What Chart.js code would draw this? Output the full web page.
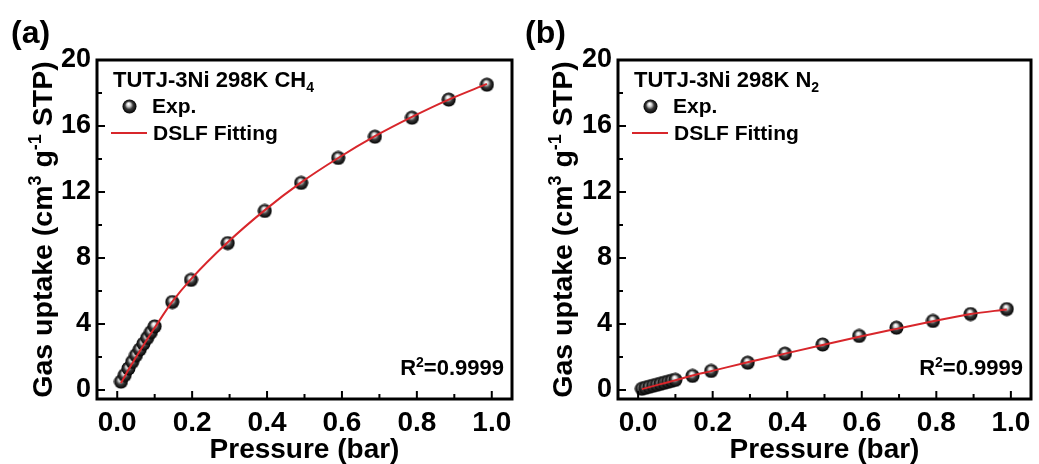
<!DOCTYPE html>
<html>
<head>
<meta charset="utf-8">
<script src="https://cdn.jsdelivr.net/npm/chart.js@4.4.1/dist/chart.umd.min.js"></script>
<style>
  body { margin: 0; background: #fff; }
  #wrap { position: relative; width: 1039px; height: 464px; }
  #chartA { position: absolute; left: 0; top: 0; }
  #chartB { position: absolute; left: 520px; top: 0; }
</style>
</head>
<body>
<div id="wrap">
  <canvas id="chartA" width="520" height="464"></canvas>
  <canvas id="chartB" width="519" height="464"></canvas>
</div>
<script>
// CH4 isotherm (panel a)
var pressureCH4 = [0.01, 0.02, 0.03, 0.04, 0.05, 0.06, 0.07, 0.08, 0.09, 0.10,
                   0.147, 0.197, 0.295, 0.394, 0.491, 0.590, 0.688, 0.787, 0.885, 0.987];
var uptakeCH4 = [0.50, 0.90, 1.30, 1.70, 2.10, 2.45, 2.80, 3.15, 3.50, 3.85,
                 5.33, 6.67, 8.90, 10.85, 12.55, 14.06, 15.35, 16.50, 17.60, 18.50];
var fitCH4 = [0.42, 0.82, 1.22, 1.60, 1.98, 2.35, 2.71, 3.07, 3.42, 3.77,
              5.35, 6.72, 8.95, 10.90, 12.58, 14.06, 15.38, 16.55, 17.60, 18.55];

// N2 isotherm (panel b)
var pressureN2 = [0.01, 0.02, 0.03, 0.04, 0.05, 0.06, 0.07, 0.08, 0.09, 0.10,
                  0.146, 0.196, 0.294, 0.394, 0.495, 0.593, 0.693, 0.791, 0.892, 0.989];
var uptakeN2 = [0.07, 0.13, 0.19, 0.25, 0.31, 0.37, 0.43, 0.49, 0.55, 0.61,
                0.85, 1.15, 1.65, 2.20, 2.75, 3.27, 3.77, 4.18, 4.60, 4.90];
var fitN2 = [0.05, 0.11, 0.17, 0.23, 0.29, 0.35, 0.41, 0.47, 0.53, 0.59,
             0.87, 1.14, 1.68, 2.20, 2.72, 3.22, 3.70, 4.16, 4.60, 4.88];

var xMajor = [0, 0.2, 0.4, 0.6, 0.8, 1.0];
var xMinor = [0.1, 0.3, 0.5, 0.7, 0.9];
var yMajor = [0, 4, 8, 12, 16, 20];
var yMinor = [2, 6, 10, 14, 18];

var FONT = "'Liberation Sans', Arial, sans-serif";
var RED = "#d8262b";

// sphere marker
var ball = document.createElement("canvas");
ball.width = 15; ball.height = 15;
(function () {
    var c = ball.getContext("2d");
    var g = c.createRadialGradient(6.5, 5, 0.5, 7.5, 7.5, 7);
    g.addColorStop(0, "#ffffff");
    g.addColorStop(0.25, "#c8c8c8");
    g.addColorStop(0.55, "#3a3a3a");
    g.addColorStop(1, "#000000");
    c.fillStyle = g;
    c.beginPath();
    c.arc(7.5, 7.5, 7, 0, Math.PI * 2);
    c.fill();
})();

function toPoints(xs, ys) {
    return xs.map(function (x, i) { return {x: x, y: ys[i]}; });
}

// text with a raised or lowered small part: parts = [[text, shift]]
function richText(ctx, parts, x, y, size, align) {
    var big = "bold " + size + "px " + FONT;
    var small = "bold " + Math.round(size * 0.62) + "px " + FONT;
    var w = 0;
    parts.forEach(function (p) {
        ctx.font = p[1] ? small : big;
        w += ctx.measureText(p[0]).width;
    });
    var cx = align === "right" ? x - w : (align === "center" ? x - w / 2 : x);
    ctx.textAlign = "left";
    parts.forEach(function (p) {
        ctx.font = p[1] ? small : big;
        ctx.fillText(p[0], cx, y + p[1] * size);
        cx += ctx.measureText(p[0]).width;
    });
}

function decorPlugin(opt) {
    return {
        id: "decor",
        afterDraw: function (chart) {
            var ctx = chart.ctx, a = chart.chartArea;
            var xs = chart.scales.x, ys = chart.scales.y;
            ctx.save();
            ctx.fillStyle = "#000";
            ctx.strokeStyle = "#000";

            // inward ticks
            ctx.lineWidth = 2;
            ctx.beginPath();
            xMajor.forEach(function (v) { var p = xs.getPixelForValue(v); ctx.moveTo(p, a.bottom); ctx.lineTo(p, a.bottom - 8); });
            xMinor.forEach(function (v) { var p = xs.getPixelForValue(v); ctx.moveTo(p, a.bottom); ctx.lineTo(p, a.bottom - 5); });
            yMajor.forEach(function (v) { var p = ys.getPixelForValue(v); ctx.moveTo(a.left, p); ctx.lineTo(a.left + 8, p); });
            yMinor.forEach(function (v) { var p = ys.getPixelForValue(v); ctx.moveTo(a.left, p); ctx.lineTo(a.left + 5, p); });
            ctx.stroke();

            // frame
            ctx.lineWidth = 3;
            ctx.strokeRect(a.left, a.top, a.right - a.left, a.bottom - a.top);

            ctx.textBaseline = "alphabetic";

            // panel label
            ctx.font = "bold 32px " + FONT;
            ctx.textAlign = "left";
            ctx.fillText(opt.panel, opt.panelX, 43);

            // y title
            ctx.save();
            ctx.translate(52, (a.top + a.bottom) / 2);
            ctx.rotate(-Math.PI / 2);
            richText(ctx, [["Gas uptake (cm", 0], ["3", -0.38], [" g", 0], ["-1", -0.38], [" STP)", 0]], 0, 0, 28.5, "center");
            ctx.restore();

            // legend
            richText(ctx, [[opt.gas, 0], [opt.sub, 0.22]], a.left + 16, 87, 22, "left");
            ctx.drawImage(ball, a.left + 25, 99);
            ctx.font = "bold 21px " + FONT;
            ctx.fillText("Exp.", a.left + 55, 113);
            ctx.strokeStyle = RED;
            ctx.lineWidth = 2;
            ctx.beginPath();
            ctx.moveTo(a.left + 14, 133);
            ctx.lineTo(a.left + 50, 133);
            ctx.stroke();
            ctx.fillText("DSLF Fitting", a.left + 56, 140);

            // R^2
            richText(ctx, [["R", 0], ["2", -0.38], ["=0.9999", 0]], a.right - 8, 375, 22, "right");
            ctx.restore();
        }
    };
}

function makeChart(id, xs, ys, fit, opt) {
    var ctx = document.getElementById(id).getContext("2d");
    return new Chart(ctx, {
        type: "scatter",
        data: {
            datasets: [{
                type: "line",
                label: "DSLF Fitting",
                data: toPoints(xs, fit),
                borderColor: RED,
                borderWidth: 2,
                pointRadius: 0,
                cubicInterpolationMode: "monotone",
                order: 0
            }, {
                label: "Exp.",
                data: toPoints(xs, ys),
                pointStyle: ball,
                pointRadius: 7,
                order: 1
            }]
        },
        options: {
            responsive: false,
            animation: false,
            devicePixelRatio: 1,
            layout: {padding: {left: 0, top: 60, right: 2, bottom: 0}},
            plugins: {legend: {display: false}, tooltip: {enabled: false}},
            scales: {
                x: {
                    type: "linear",
                    min: -0.054, max: 1.054,
                    grid: {display: false, drawTicks: false},
                    border: {display: false},
                    ticks: {
                        stepSize: 0.2, includeBounds: false, padding: 7,
                        color: "#000", font: {family: FONT, size: 28, weight: "bold"},
                        callback: function (v) { return Number(v).toFixed(1); }
                    },
                    title: {
                        display: true, text: "Pressure (bar)", color: "#000",
                        font: {family: FONT, size: 28, weight: "bold", lineHeight: 1},
                        padding: {top: 0, bottom: 0}
                    },
                    afterFit: function (s) { s.height = 65; }
                },
                y: {
                    min: -0.55, max: 20,
                    grid: {display: false, drawTicks: false},
                    border: {display: false},
                    ticks: {
                        stepSize: 4, includeBounds: false, padding: 6,
                        color: "#000", font: {family: FONT, size: 27, weight: "bold"},
                        callback: function (v) { return Number(v).toFixed(0); }
                    },
                    afterFit: function (s) { s.width = opt.left; }
                }
            }
        },
        plugins: [decorPlugin(opt)]
    });
}

makeChart("chartA", pressureCH4, uptakeCH4, fitCH4, {panel: "(a)", panelX: 11, gas: "TUTJ-3Ni 298K CH", sub: "4", left: 97});
makeChart("chartB", pressureN2, uptakeN2, fitN2, {panel: "(b)", panelX: 5, gas: "TUTJ-3Ni 298K N", sub: "2", left: 98});
</script>
</body>
</html>
